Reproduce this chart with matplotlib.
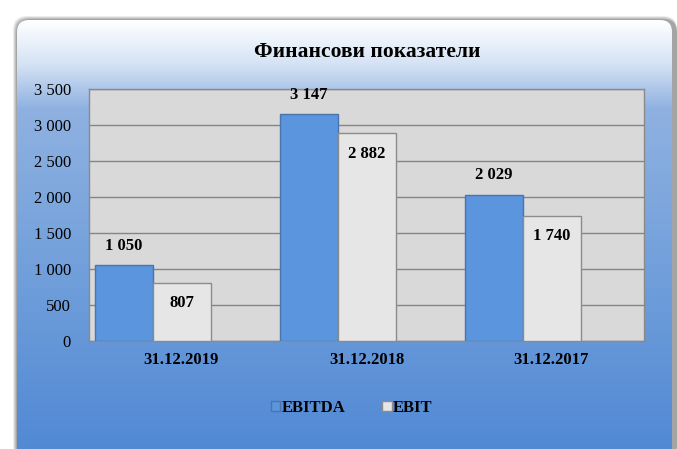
import numpy as np
import matplotlib.pyplot as plt
from matplotlib.patches import FancyBboxPatch
from matplotlib.colors import LinearSegmentedColormap

plt.rcParams['font.family'] = ['Liberation Serif', 'DejaVu Serif']

categories = ["31.12.2019", "31.12.2018", "31.12.2017"]
ebitda = [1050, 3147, 2029]
ebit = [807, 2882, 1740]
series_names = ["EBITDA", "EBIT"]
title = "Финансови показатели"


def fmt(v):
    return f"{v:,}".replace(",", " ")


W, H = 677, 449
fig = plt.figure(figsize=(W / 100, H / 100), dpi=100)
fig.patch.set_facecolor("white")

# фон: заоблен правоъгълник с градиент и сянка
bg = fig.add_axes([0, 0, 1, 1], zorder=-5)
bg.set_xlim(0, W)
bg.set_ylim(H, 0)
bg.axis("off")

for i, a in enumerate([0.12, 0.16, 0.2, 0.25]):
    d = 4 - i
    sh = FancyBboxPatch((17 - d, 20 - d), 660 + d, 440 + d,
                        boxstyle="round,pad=0,rounding_size=14",
                        fc="#606060", ec="none", alpha=a, zorder=0)
    bg.add_patch(sh)

box = FancyBboxPatch((17, 20), 655, 440, boxstyle="round,pad=0,rounding_size=12",
                     fc="none", ec="none", zorder=1)
bg.add_patch(box)
cmap = LinearSegmentedColormap.from_list(
    "bgfade", [(0, "#ffffff"), (0.1, "#d4e2f4"), (0.2, "#8fb1e1"),
               (0.5, "#77a3dc"), (1, "#4f88d4")])
grad = np.linspace(0, 1, 256).reshape(-1, 1)
img = bg.imshow(grad, cmap=cmap, extent=[17, 672, 460, 20], aspect="auto", zorder=2)
img.set_clip_path(box)

# графика
ax = fig.add_axes([89 / W, 1 - 341 / H, 555 / W, 252 / H])
ax.set_facecolor("#d9d9d9")
x = np.arange(len(categories))
w = 58 / 185

b1 = ax.bar(x - w, ebitda, w, color="#5b95dd", edgecolor="#4a74aa", lw=1.0,
            label=series_names[0], zorder=3)
b2 = ax.bar(x, ebit, w, color="#e6e6e6", edgecolor="#8c8c8c", lw=1.0,
            label=series_names[1], zorder=3)

for xi, v in zip(x, ebitda):
    ax.annotate(fmt(v), (xi - w, v), xytext=(0, 14), textcoords="offset points",
                ha="center", va="center", fontsize=12, fontweight="bold", zorder=5)
for xi, v in zip(x, ebit):
    ax.annotate(fmt(v), (xi, v), xytext=(0, -14.5), textcoords="offset points",
                ha="center", va="center", fontsize=12, fontweight="bold", zorder=5)

ax.set_xlim(-0.5, 2.5)
ax.set_ylim(0, 3500)
ax.set_yticks(np.arange(0, 3501, 500))
ax.set_yticklabels([fmt(v) for v in range(0, 3501, 500)], fontsize=12)
ax.set_xticks(x)
ax.set_xticklabels(categories, fontsize=12, fontweight="bold")
ax.tick_params(length=0, pad=13, axis="y")
ax.tick_params(length=0, pad=8, axis="x")
ax.grid(axis="y", color="#858585", lw=1.0, zorder=1)
for s in ax.spines.values():
    s.set_color("#8a8a8a")
    s.set_linewidth(1.0)

fig.text(367 / W, 1 - 52 / H, title, ha="center", va="center",
         fontsize=15.5, fontweight="bold")

leg = fig.legend(handles=[b1, b2], labels=series_names, loc="center",
                 bbox_to_anchor=(352 / W, 1 - 408 / H), ncol=2, frameon=False,
                 prop={"weight": "bold", "size": 12}, handlelength=0.55,
                 handleheight=0.55, handletextpad=0.1, columnspacing=2.2)

fig.savefig("out.png", dpi=100)
